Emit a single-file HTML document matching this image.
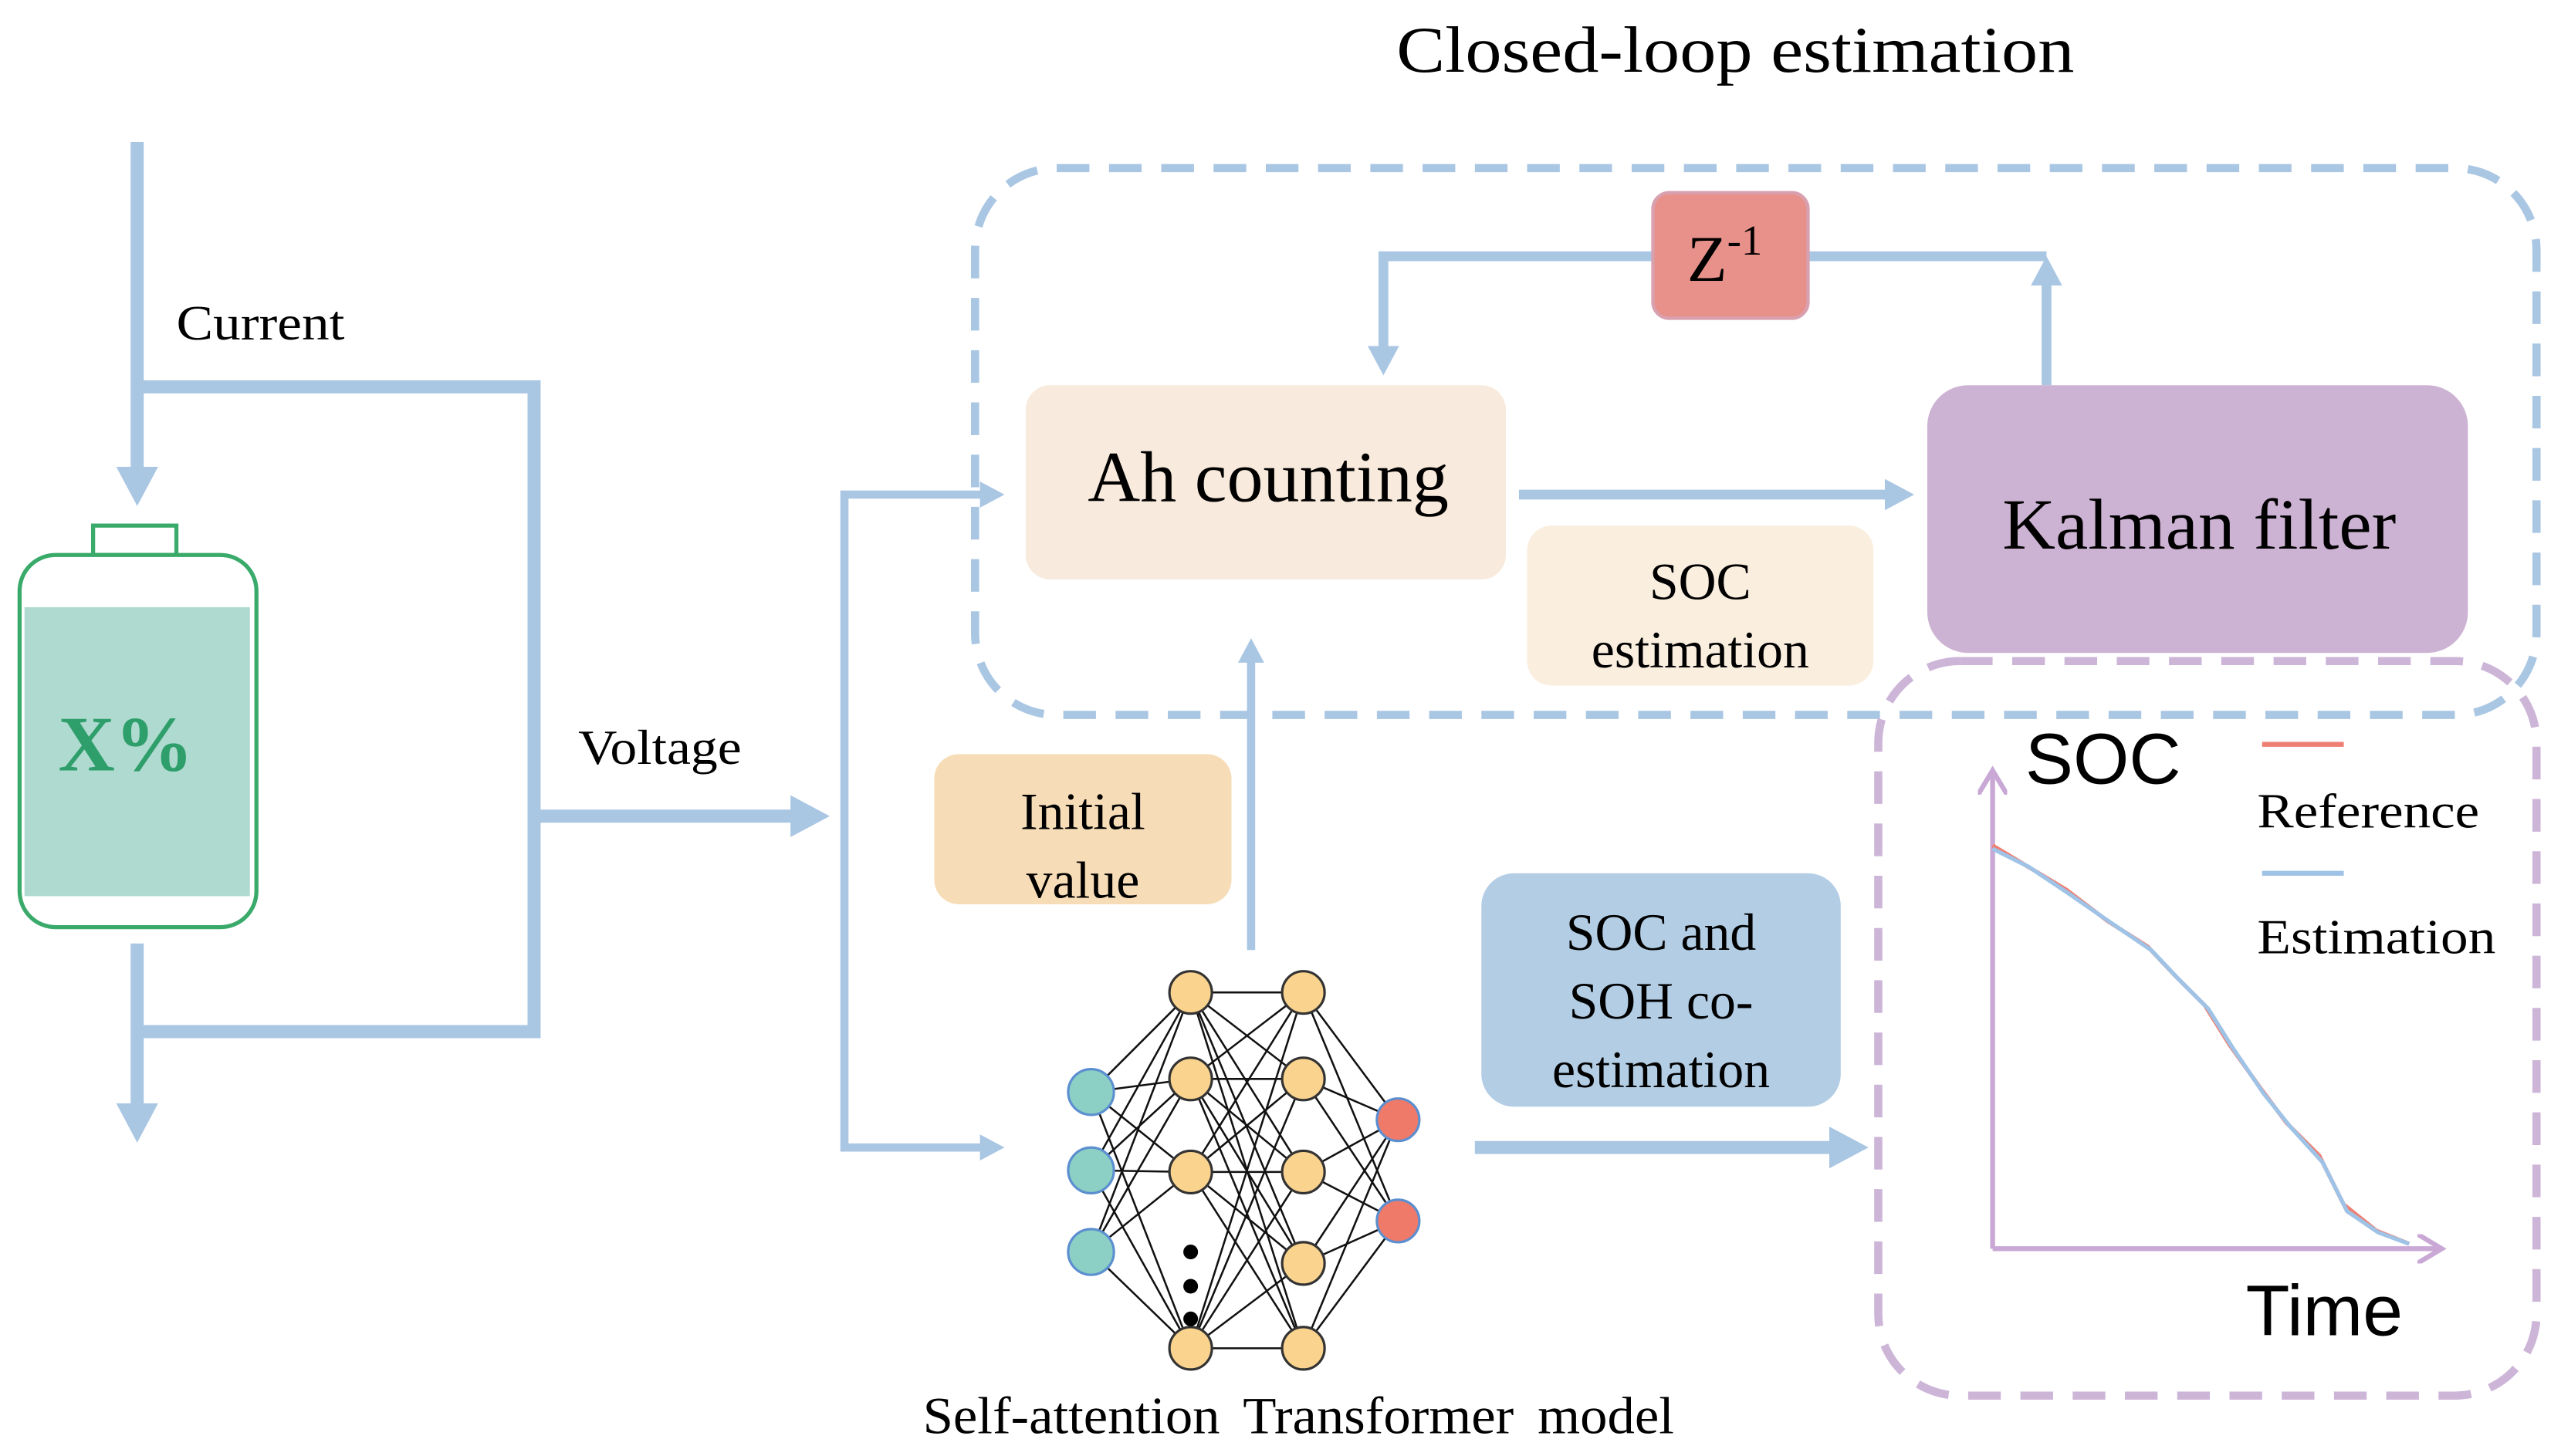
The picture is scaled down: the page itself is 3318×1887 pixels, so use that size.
<!DOCTYPE html>
<html><head><meta charset="utf-8"><style>html,body{margin:0;padding:0;background:#fff}svg{display:block}</style></head><body>
<svg width="3318" height="1887" viewBox="0 0 1568 892" preserveAspectRatio="none" xmlns="http://www.w3.org/2000/svg" font-family="'Liberation Serif', serif">
<defs>
<marker id="a" markerWidth="4" markerHeight="4" refX="2" refY="2" orient="auto" markerUnits="strokeWidth"><path d="M0,0.4 L3,2 L0,3.6 Z" fill="#a9c6e3"/></marker>
<marker id="p" markerWidth="6" markerHeight="6" refX="5" refY="3" orient="auto" markerUnits="strokeWidth"><path d="M0,0 L5,3 L0,6" fill="none" stroke="#c9a8d6" stroke-width="1"/></marker>
</defs>
<text x="855" y="44" font-size="40" textLength="415" lengthAdjust="spacingAndGlyphs">Closed-loop estimation</text>
<rect x="597" y="103" width="956" height="335" rx="50" fill="none" stroke="#a9c6e3" stroke-width="5" stroke-dasharray="20 12"/>
<rect x="1150" y="405" width="403" height="450" rx="50" fill="none" stroke="#cdb5d8" stroke-width="5" stroke-dasharray="20 12"/>
<g stroke="#a9c6e3" fill="none">
<path d="M84,87 V302" stroke-width="8" marker-end="url(#a)"/>
<path d="M84,237 H327 V632 H84" stroke-width="8"/>
<path d="M84,578 V692" stroke-width="8" marker-end="url(#a)"/>
<path d="M327,500 H500" stroke-width="8" marker-end="url(#a)"/>
<path d="M608,303 H517 V703 H608" stroke-width="5"/>
<path d="M600,303 H610" stroke-width="5" marker-end="url(#a)"/>
<path d="M600,703 H610" stroke-width="5" marker-end="url(#a)"/>
<path d="M1012,157 H847 V224" stroke-width="6" marker-end="url(#a)"/>
<path d="M1107,157 H1253"  stroke-width="6"/>
<path d="M1253,236 V163" stroke-width="6" marker-end="url(#a)"/>
<path d="M930,303 H1166" stroke-width="6" marker-end="url(#a)"/>
<path d="M766,582 V396" stroke-width="5" marker-end="url(#a)"/>
<path d="M903,703 H1136" stroke-width="8" marker-end="url(#a)"/>
</g>
<rect x="57" y="322" width="51" height="18" fill="#fff" stroke="#3aaa6a" stroke-width="2.5"/>
<rect x="12" y="340" width="145" height="228" rx="22" fill="#fff" stroke="#3aaa6a" stroke-width="2.5"/>
<rect x="15" y="372" width="138" height="177" fill="#aedad0"/>
<text x="77" y="472" font-size="48" font-weight="bold" fill="#2e9e6a" text-anchor="middle">X%</text>
<text x="108" y="208" font-size="30" textLength="103" lengthAdjust="spacingAndGlyphs">Current</text>
<text x="354" y="468" font-size="30" textLength="100" lengthAdjust="spacingAndGlyphs">Voltage</text>
<rect x="628" y="236" width="294" height="119" rx="15" fill="#f8eadc"/>
<text x="666" y="307" font-size="44" textLength="221" lengthAdjust="spacingAndGlyphs">Ah counting</text>
<rect x="1180" y="236" width="331" height="164" rx="25" fill="#cdb3d3"/>
<text x="1226" y="336" font-size="44" textLength="241" lengthAdjust="spacingAndGlyphs">Kalman filter</text>
<rect x="935" y="322" width="212" height="98" rx="15" fill="#faeedf"/>
<text x="1041" y="367" font-size="32" text-anchor="middle">SOC</text>
<text x="1041" y="409" font-size="32" text-anchor="middle">estimation</text>
<rect x="1012" y="118" width="95" height="77" rx="10" fill="#e8918a" stroke="#d9a0b0" stroke-width="2"/>
<text x="1033" y="172" font-size="40">Z<tspan font-size="26" dy="-16">-1</tspan></text>
<rect x="572" y="462" width="182" height="92" rx="15" fill="#f7ddb7"/>
<text x="663" y="508" font-size="32" text-anchor="middle">Initial</text>
<text x="663" y="550" font-size="32" text-anchor="middle">value</text>
<rect x="907" y="535" width="220" height="143" rx="20" fill="#b2cde4"/>
<text x="1017" y="582" font-size="32" text-anchor="middle">SOC and</text>
<text x="1017" y="624" font-size="32" text-anchor="middle">SOH co-</text>
<text x="1017" y="666" font-size="32" text-anchor="middle">estimation</text>
<g stroke="#111" stroke-width="1.2">
<path d="M668,669L729,608M668,669L729,661M668,669L729,718M668,669L729,826M668,717L729,608M668,717L729,661M668,717L729,718M668,717L729,826M668,767L729,608M668,767L729,661M668,767L729,718M668,767L729,826"/>
<path d="M729,608L798,608M729,608L798,661M729,608L798,718M729,608L798,774M729,608L798,826M729,661L798,608M729,661L798,661M729,661L798,718M729,661L798,774M729,661L798,826M729,718L798,608M729,718L798,661M729,718L798,718M729,718L798,774M729,718L798,826M729,826L798,608M729,826L798,661M729,826L798,718M729,826L798,774M729,826L798,826"/>
<path d="M798,608L856,686M798,608L856,748M798,661L856,686M798,661L856,748M798,718L856,686M798,718L856,748M798,774L856,686M798,774L856,748M798,826L856,686M798,826L856,748"/>
</g>
<g fill="#8ccfc4" stroke="#5b8fd0" stroke-width="1.5"><circle cx="668" cy="669" r="14"/><circle cx="668" cy="717" r="14"/><circle cx="668" cy="767" r="14"/></g>
<g fill="#fad38e" stroke="#333" stroke-width="1.5">
<circle cx="729" cy="608" r="13"/><circle cx="729" cy="661" r="13"/><circle cx="729" cy="718" r="13"/><circle cx="729" cy="826" r="13"/>
<circle cx="798" cy="608" r="13"/><circle cx="798" cy="661" r="13"/><circle cx="798" cy="718" r="13"/><circle cx="798" cy="774" r="13"/><circle cx="798" cy="826" r="13"/></g>
<g fill="#f07a6a" stroke="#5b8fd0" stroke-width="1.5"><circle cx="856" cy="686" r="13"/><circle cx="856" cy="748" r="13"/></g>
<g fill="#000"><circle cx="729" cy="767" r="4.5"/><circle cx="729" cy="788" r="4.5"/><circle cx="729" cy="808" r="4.5"/></g>
<text x="565" y="878" font-size="32" textLength="460" lengthAdjust="spacingAndGlyphs" word-spacing="6">Self-attention Transformer model</text>
<path d="M1220,765 V472" stroke="#c9a8d6" stroke-width="3" fill="none" marker-end="url(#p)"/>
<path d="M1220,765 H1495" stroke="#c9a8d6" stroke-width="3" fill="none" marker-end="url(#p)"/>
<polyline fill="none" stroke="#ef7f72" stroke-width="2.5" points="1220,518 1240,530 1265,545 1290,564 1315,580 1332,598 1350,616 1365,640 1385,668 1400,688 1420,708 1435,738 1455,754 1475,762"/>
<polyline fill="none" stroke="#9fc3e6" stroke-width="2.5" points="1220,520 1242,531 1266,547 1292,565 1317,582 1334,600 1352,618 1367,642 1386,670 1402,690 1422,712 1437,742 1456,755 1475,762"/>
<text x="1240" y="480" font-size="44" font-family="'Liberation Sans', sans-serif">SOC</text>
<text x="1375" y="818" font-size="44" font-family="'Liberation Sans', sans-serif">Time</text>
<line x1="1385" y1="456" x2="1435" y2="456" stroke="#ef7f72" stroke-width="3"/>
<text x="1382" y="507" font-size="30" textLength="136" lengthAdjust="spacingAndGlyphs">Reference</text>
<line x1="1385" y1="535" x2="1435" y2="535" stroke="#9fc3e6" stroke-width="3"/>
<text x="1382" y="584" font-size="30" textLength="146" lengthAdjust="spacingAndGlyphs">Estimation</text>
</svg>
</body></html>
